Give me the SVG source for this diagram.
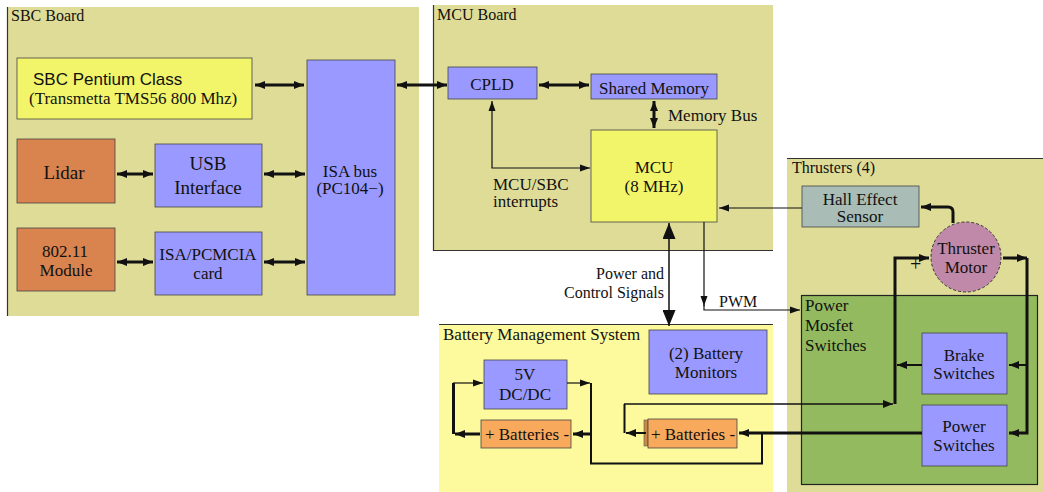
<svg xmlns="http://www.w3.org/2000/svg" width="1043" height="492" viewBox="0 0 1043 492">
  <style>
    text { font-family: "Liberation Serif", "Times New Roman", serif; font-size: 17px; fill: #111; }
    .sans { font-family: "Liberation Sans", Arial, sans-serif; }
    .lbl { font-size: 16px; }
    .c { text-anchor: middle; }
    .r { text-anchor: end; }
    .board { fill: #dfdc98; }
    .edge { stroke: #333; stroke-width: 1.2; fill: none; }
    .blue { fill: #9999ff; stroke: #444; stroke-width: 0.8; }
    .yel { fill: #f2f56a; stroke: #444; stroke-width: 0.8; }
    .org { fill: #d9834f; stroke: #444; stroke-width: 0.8; }
    .bat { fill: #f8a95c; stroke: #444; stroke-width: 0.8; }
    .hall { fill: #a9bcb5; stroke: #444; stroke-width: 0.8; }
    .wire { fill: none; stroke: #111; }
    .w1 { stroke-width: 1.2; }
    .w2 { stroke-width: 2; }
    .w3 { stroke-width: 3; }
  </style>
  <defs>
    <marker id="ah" markerUnits="userSpaceOnUse" markerWidth="10" markerHeight="8" refX="10" refY="4" orient="auto-start-reverse">
      <path d="M0,0 L10,4 L0,8 Z" fill="#111"/>
    </marker>
    <marker id="ahT" markerUnits="userSpaceOnUse" markerWidth="10" markerHeight="8" refX="10" refY="4" orient="auto-start-reverse">
      <path d="M0,0.5 L10,4 L0,7.5 Z" fill="#111"/>
    </marker>
    <marker id="ahB" markerUnits="userSpaceOnUse" markerWidth="16" markerHeight="13" refX="16" refY="6.5" orient="auto-start-reverse">
      <path d="M0,0 L16,6.5 L0,13 Z" fill="#111"/>
    </marker>
  </defs>

  <rect width="1043" height="492" fill="#ffffff"/>

  <!-- Containers -->
  <g id="sbc-board">
    <rect class="board" x="7" y="7" width="412" height="309"/>
    <path class="edge" d="M7.5,7 V316"/>
    <text class="lbl" x="11" y="21">SBC Board</text>
  </g>
  <g id="mcu-board">
    <rect class="board" x="433" y="5" width="340" height="246"/>
    <path class="edge" d="M433.5,5 V250.5 H773"/>
    <text class="lbl" x="437" y="20">MCU Board</text>
  </g>
  <g id="thrusters">
    <rect class="board" x="787" y="158" width="256" height="334"/>
    <path class="edge" d="M787,158.5 H1043"/>
    <text class="lbl" x="792" y="173">Thrusters (4)</text>
  </g>
  <g id="battery-management">
    <rect x="439" y="324" width="334" height="168" fill="#fdf99d"/>
    <path class="edge" d="M439,324.5 H773"/>
    <text x="443" y="340">Battery Management System</text>
  </g>
  <g id="power-mosfet">
    <rect x="801.5" y="295.5" width="236" height="189" fill="#93ba5e" stroke="#222" stroke-width="1.2"/>
    <text x="805" y="311">Power</text>
    <text x="805" y="331">Mosfet</text>
    <text x="805" y="351">Switches</text>
  </g>

  <!-- SBC board nodes -->
  <g id="sbc-pentium">
    <rect class="yel" x="17" y="58" width="235" height="61"/>
    <text class="sans" x="33" y="85">SBC Pentium Class</text>
    <text x="29" y="104">(Transmetta TMS56 800 Mhz)</text>
  </g>
  <g id="lidar">
    <rect class="org" x="17" y="139" width="98" height="64"/>
    <text class="c" x="64" y="179" style="font-size:19px">Lidar</text>
  </g>
  <g id="usb-interface">
    <rect class="blue" x="155" y="144" width="107" height="63"/>
    <text class="c" x="208" y="170" style="font-size:19px">USB</text>
    <text class="c" x="208" y="194" style="font-size:19px">Interface</text>
  </g>
  <g id="wifi-module">
    <rect class="org" x="17" y="228" width="98" height="63"/>
    <text class="c" x="65" y="257">802.11</text>
    <text class="c" x="66" y="276">Module</text>
  </g>
  <g id="isa-pcmcia">
    <rect class="blue" x="155" y="232" width="107" height="63"/>
    <text class="c" x="208" y="260">ISA/PCMCIA</text>
    <text class="c" x="208" y="279">card</text>
  </g>
  <g id="isa-bus">
    <rect class="blue" x="307" y="60" width="88" height="235"/>
    <text class="c" x="350" y="177">ISA bus</text>
    <text class="c" x="350" y="194">(PC104−)</text>
  </g>

  <!-- MCU board nodes -->
  <g id="cpld">
    <rect class="blue" x="448" y="67" width="89" height="32"/>
    <text class="c" x="492" y="90">CPLD</text>
  </g>
  <g id="shared-memory">
    <rect class="blue" x="591" y="74" width="126" height="25"/>
    <text class="c" x="654" y="94">Shared Memory</text>
  </g>
  <g id="mcu">
    <rect class="yel" x="591" y="130" width="126" height="92"/>
    <text class="c" x="654" y="173">MCU</text>
    <text class="c" x="654" y="192">(8 MHz)</text>
  </g>

  <!-- Thruster nodes -->
  <g id="hall-sensor">
    <rect class="hall" x="802" y="186" width="117" height="41"/>
    <text class="c" x="860" y="205">Hall Effect</text>
    <text class="c" x="860" y="222">Sensor</text>
  </g>
  <g id="thruster-motor">
    <circle cx="966" cy="257" r="35" fill="#c089a9" stroke="#333" stroke-width="1" stroke-dasharray="3,2"/>
    <text class="c" x="966" y="254">Thruster</text>
    <text class="c" x="966" y="273">Motor</text>
  </g>
  <g id="brake-switches">
    <rect class="blue" x="922" y="333" width="85" height="61"/>
    <text class="c" x="964" y="361">Brake</text>
    <text class="c" x="964" y="379">Switches</text>
  </g>
  <g id="power-switches">
    <rect class="blue" x="922" y="405" width="85" height="61"/>
    <text class="c" x="964" y="432">Power</text>
    <text class="c" x="964" y="451">Switches</text>
  </g>

  <!-- Battery management nodes -->
  <g id="battery-monitors">
    <rect class="blue" x="649" y="330" width="118" height="64"/>
    <text class="c" x="706" y="359">(2) Battery</text>
    <text class="c" x="706" y="378">Monitors</text>
  </g>
  <g id="dcdc">
    <rect class="blue" x="484" y="360" width="83" height="49"/>
    <text class="c" x="525" y="380">5V</text>
    <text class="c" x="525" y="400">DC/DC</text>
  </g>
  <g id="batteries-1">
    <rect class="bat" x="481" y="420" width="90" height="28"/>
    <text class="c" x="527" y="440">+ Batteries -</text>
  </g>
  <g id="batteries-2">
    <rect x="644" y="420" width="4" height="26" fill="#c98a45" stroke="#555" stroke-width="0.6"/>
    <rect class="bat" x="648" y="419" width="89" height="29"/>
    <text class="c" x="693" y="440">+ Batteries -</text>
  </g>

  <!-- Connectors -->
  <g id="connectors">
    <!-- SBC board buses -->
    <path class="wire w3" d="M255,85 H304" marker-start="url(#ah)" marker-end="url(#ah)"/>
    <path class="wire w3" d="M117,174 H153" marker-start="url(#ah)" marker-end="url(#ah)"/>
    <path class="wire w3" d="M264,174 H305" marker-start="url(#ah)" marker-end="url(#ah)"/>
    <path class="wire w3" d="M117,262 H153" marker-start="url(#ah)" marker-end="url(#ah)"/>
    <path class="wire w3" d="M264,262 H305" marker-start="url(#ah)" marker-end="url(#ah)"/>
    <path class="wire w3" d="M397,85 H447" marker-start="url(#ah)" marker-end="url(#ah)"/>
    <!-- MCU board -->
    <path class="wire w3" d="M539,85 H589" marker-start="url(#ah)" marker-end="url(#ah)"/>
    <path class="wire w3" d="M654,101 V128" marker-start="url(#ah)" marker-end="url(#ah)"/>
    <text x="668" y="121">Memory Bus</text>
    <path class="wire w1" d="M590,168 H492 V101" marker-start="url(#ahT)" marker-end="url(#ahT)"/>
    <text x="493" y="190">MCU/SBC</text>
    <text x="493" y="207">interrupts</text>
    <path class="wire w1" d="M802,208 H719" marker-end="url(#ahT)"/>
    <!-- MCU to battery monitors -->
    <path class="wire" stroke-width="1.5" d="M669,223 V326" marker-start="url(#ahB)" marker-end="url(#ahB)"/>
    <text class="r lbl" x="664" y="279">Power and</text>
    <text class="r lbl" x="664" y="298">Control Signals</text>
    <!-- PWM -->
    <path class="wire w1" d="M704,222 V306" marker-end="url(#ahT)"/>
    <path class="wire w1" d="M704,305 V310 H800" marker-end="url(#ahT)"/>
    <text class="lbl" x="719" y="307">PWM</text>
    <!-- Motor feedback to hall sensor -->
    <path class="wire w3" d="M953,223 V212 Q953,207 948,207 H921" marker-end="url(#ah)"/>
    <text x="910" y="271" style="font-size:20px">+</text>
    <text x="1011" y="263">-</text>
    <!-- Motor drive loop -->
    <path class="wire w2" d="M646,433 H626" marker-end="url(#ah)"/>
    <path class="wire w2" d="M624.5,433 V404" />
    <path class="wire" stroke-width="1.5" d="M624,404 H893" marker-end="url(#ah)"/>
    <path class="wire w3" d="M895,404 V258 H929" marker-end="url(#ah)"/>
    <path class="wire w2" d="M922,365 H897" marker-end="url(#ah)"/>
    <path class="wire w3" d="M1003,258 H1027" marker-end="url(#ah)"/>
    <path class="wire w3" d="M1027,258 V433 H1009" marker-end="url(#ah)"/>
    <path class="wire w2" d="M1027,365 H1009" marker-end="url(#ah)"/>
    <path class="wire w3" d="M922,433 H739" marker-end="url(#ah)"/>
    <!-- Charging / DC-DC loop -->
    <path class="wire w2" d="M762,433 V463.5 H591 V383" />
    <path class="wire w1" d="M567,383 H590" marker-end="url(#ahT)"/>
    <path class="wire w3" d="M591,434 H573" marker-end="url(#ah)"/>
    <path class="wire w3" d="M480,434 H455" marker-end="url(#ah)"/>
    <path class="wire w3" d="M453.5,434 V383" />
    <path class="wire w1" d="M453,383 H483" marker-end="url(#ahT)"/>
  </g>
</svg>
